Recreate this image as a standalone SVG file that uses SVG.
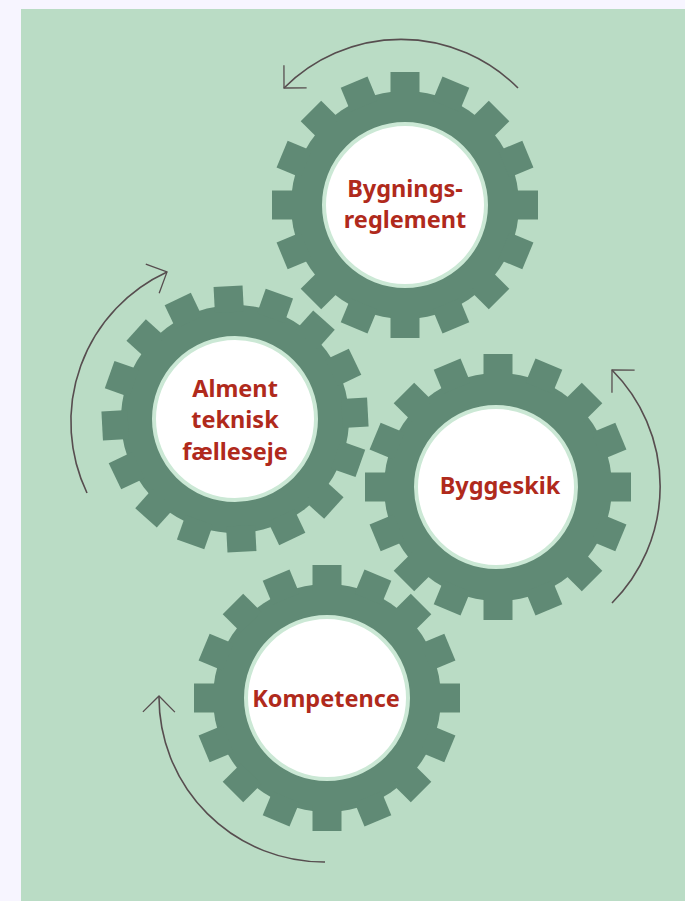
<svg xmlns="http://www.w3.org/2000/svg" xmlns:xlink="http://www.w3.org/1999/xlink" width="685" height="901" viewBox="0 0 685 901">
  <style>
    .gear { fill: #608a75; }
    .hub { fill: #ffffff; stroke: #cbe8d5; stroke-width: 4; }
    .label { font-family: "Noto Sans", "Open Sans", sans-serif; font-weight: 700; font-size: 23.5px; fill: #b02a1c; text-anchor: middle; }
    .arrow { fill: none; stroke: #574d4f; stroke-width: 1.6; marker-end: url(#chev); }
  </style>
  <defs>
    <marker id="chev" markerUnits="userSpaceOnUse" markerWidth="40" markerHeight="40" viewBox="-25 -25 50 50" refX="0" refY="0" orient="auto" overflow="visible">
      <path d="M-20,-20 L0,0 L-20,20" fill="none" stroke="#574d4f" stroke-width="1.6"/>
    </marker>
    <g id="gearShape" class="gear">
      <circle r="114"/>
      <rect x="-14.5" y="-133" width="29" height="26"/>
      <rect x="-14.5" y="-133" width="29" height="26" transform="rotate(22.5)"/>
      <rect x="-14.5" y="-133" width="29" height="26" transform="rotate(45)"/>
      <rect x="-14.5" y="-133" width="29" height="26" transform="rotate(67.5)"/>
      <rect x="-14.5" y="-133" width="29" height="26" transform="rotate(90)"/>
      <rect x="-14.5" y="-133" width="29" height="26" transform="rotate(112.5)"/>
      <rect x="-14.5" y="-133" width="29" height="26" transform="rotate(135)"/>
      <rect x="-14.5" y="-133" width="29" height="26" transform="rotate(157.5)"/>
      <rect x="-14.5" y="-133" width="29" height="26" transform="rotate(180)"/>
      <rect x="-14.5" y="-133" width="29" height="26" transform="rotate(202.5)"/>
      <rect x="-14.5" y="-133" width="29" height="26" transform="rotate(225)"/>
      <rect x="-14.5" y="-133" width="29" height="26" transform="rotate(247.5)"/>
      <rect x="-14.5" y="-133" width="29" height="26" transform="rotate(270)"/>
      <rect x="-14.5" y="-133" width="29" height="26" transform="rotate(292.5)"/>
      <rect x="-14.5" y="-133" width="29" height="26" transform="rotate(315)"/>
      <rect x="-14.5" y="-133" width="29" height="26" transform="rotate(337.5)"/>
    </g>
  </defs>

  <rect x="0" y="0" width="685" height="901" fill="#f7f5ff"/>
  <rect x="21" y="9" width="664" height="892" fill="#badcc5"/>

  <g id="bygningsreglement">
    <use xlink:href="#gearShape" href="#gearShape" transform="translate(405,205)"/>
    <circle class="hub" cx="405" cy="205" r="81"/>
    <text class="label" x="405" y="197">Bygnings-</text>
    <text class="label" x="405" y="228">reglement</text>
  </g>

  <g id="alment-teknisk-faelleseje">
    <use xlink:href="#gearShape" href="#gearShape" transform="translate(235,419) rotate(-3)"/>
    <circle class="hub" cx="235" cy="419" r="81"/>
    <text class="label" x="235" y="397">Alment</text>
    <text class="label" x="235" y="428">teknisk</text>
    <text class="label" x="235" y="460">fælleseje</text>
  </g>

  <g id="byggeskik">
    <use xlink:href="#gearShape" href="#gearShape" transform="translate(498,487)"/>
    <circle class="hub" cx="496" cy="487" r="80"/>
    <text class="label" x="500" y="494">Byggeskik</text>
  </g>

  <g id="kompetence">
    <use xlink:href="#gearShape" href="#gearShape" transform="translate(327,698)"/>
    <circle class="hub" cx="327" cy="698" r="81"/>
    <text class="label" x="326" y="707">Kompetence</text>
  </g>

  <g id="connectors">
    <path class="arrow" d="M518,88 A165,165 0 0 0 284,88"/>
    <path class="arrow" d="M87,493 A165,165 0 0 1 167,272"/>
    <path class="arrow" d="M612,603 A165,165 0 0 0 612,370"/>
    <path class="arrow" d="M325,862 A165,165 0 0 1 159,696"/>
  </g>
</svg>
